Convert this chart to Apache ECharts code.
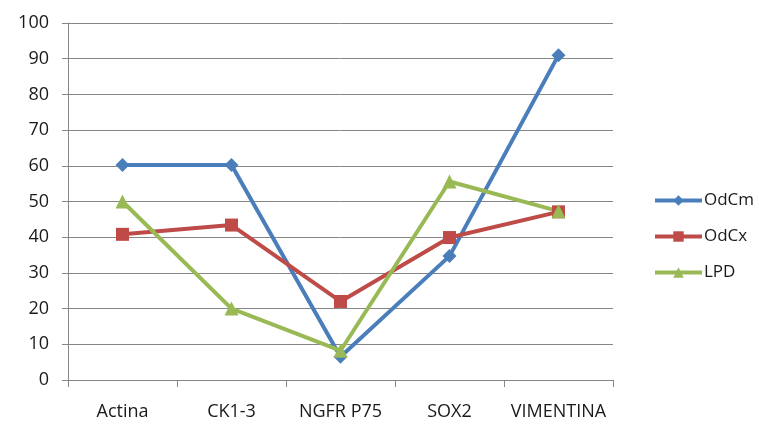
<!DOCTYPE html>
<html>
<head>
<meta charset="utf-8">
<script src="https://cdn.jsdelivr.net/npm/echarts@6/dist/echarts.min.js"></script>
<style>
	html, body { margin: 0; padding: 0; background: #fff; }
	#chart { width: 759px; height: 424px; }
</style>
</head>
<body>
<div id="chart"></div>
<script>
// 数据
let categories = ['Actina', 'CK1-3', 'NGFR P75', 'SOX2', 'VIMENTINA'];
let odcm = [60.2, 60.2, 6.5, 34.7, 91];
let odcx = [40.8, 43.4, 22, 39.9, 47.1];
let lpd = [50, 20, 8.2, 55.6, 47.3];
let yTicks = { min: 0, max: 100, interval: 10 };

(function() {
	let myChart = echarts.init(document.getElementById('chart'));

	let font = '"Open Sans", "Liberation Sans", sans-serif';
	let axisColor = '#868686';
	let textColor = '#1a1a1a';

	let option = {
		animation: false,
		color: ['#4a7ebb', '#be4b48', '#98b954'],
		grid: {
			left: 68,
			right: 146,
			top: 23,
			bottom: 44
		},
		legend: {
			orient: 'vertical',
			left: 648,
			top: 187,
			padding: [5, 0, 5, 5],
			itemWidth: 47,
			itemHeight: 13,
			itemGap: 19,
			lineStyle: { width: 4 },
			textStyle: {
				color: textColor,
				fontSize: 17,
				fontFamily: font,
				padding: [0, 0, 0, -3]
			},
			data: ['OdCm', 'OdCx', 'LPD']
		},
		xAxis: {
			type: 'category',
			data: categories,
			boundaryGap: true,
			axisLine: { lineStyle: { color: axisColor, width: 1 } },
			axisTick: { show: true, length: 7, lineStyle: { color: axisColor } },
			axisLabel: {
				color: textColor,
				fontSize: 18,
				fontFamily: font,
				margin: 23,
				interval: 0
			}
		},
		yAxis: {
			type: 'value',
			min: yTicks.min,
			max: yTicks.max,
			interval: yTicks.interval,
			axisLine: { show: true, lineStyle: { color: axisColor, width: 1 } },
			axisTick: { show: true, length: 6, lineStyle: { color: axisColor } },
			axisLabel: {
				color: textColor,
				fontSize: 18,
				fontFamily: font,
				margin: 19
			},
			splitLine: { lineStyle: { color: axisColor, width: 1 } }
		},
		series: [
			{
				name: 'OdCm',
				type: 'line',
				data: odcm,
				symbol: 'diamond',
				symbolSize: 14,
				lineStyle: { width: 4 }
			},
			{
				name: 'OdCx',
				type: 'line',
				data: odcx,
				symbol: 'rect',
				symbolSize: 13,
				lineStyle: { width: 4 }
			},
			{
				name: 'LPD',
				type: 'line',
				data: lpd,
				symbol: 'triangle',
				symbolSize: 14,
				lineStyle: { width: 4 }
			}
		]
	};

	myChart.setOption(option);
})();
</script>
</body>
</html>
